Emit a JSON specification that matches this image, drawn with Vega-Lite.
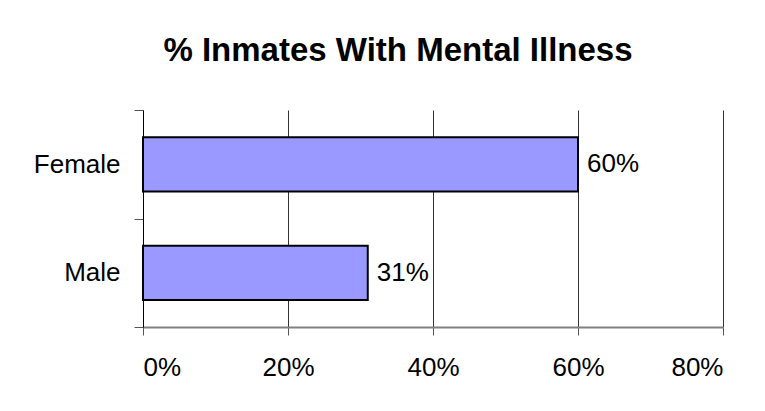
{
  "$schema": "https://vega.github.io/schema/vega-lite/v6.json",
  "width": 580,
  "height": 217,
  "autosize": {"type": "none"},
  "padding": {"left": 143, "top": 110, "right": 42, "bottom": 84},
  "background": "white",
  "config": {
    "font": "Liberation Sans",
    "view": {"stroke": null}
  },
  "title": {
    "text": "% Inmates With Mental Illness",
    "font": "Liberation Sans",
    "fontSize": 33,
    "fontWeight": "bold",
    "color": "black",
    "anchor": "middle",
    "dx": -35,
    "offset": 29
  },
  "data": {
    "values": [
      {"sex": "Female", "pct": 0.60},
      {"sex": "Male", "pct": 0.31}
    ]
  },
  "encoding": {
    "y": {
      "field": "sex",
      "type": "nominal",
      "sort": ["Female", "Male"],
      "scale": {"paddingInner": 0, "paddingOuter": 0},
      "axis": {
        "title": null,
        "labelFontSize": 26,
        "labelColor": "black",
        "labelPadding": 14,
        "tickSize": 9,
        "tickBand": "extent",
        "tickColor": "#555555",
        "domainColor": "black",
        "domainWidth": 1,
        "grid": false
      }
    },
    "x": {
      "field": "pct",
      "type": "quantitative",
      "scale": {"domain": [0, 0.8], "nice": false},
      "axis": {
        "title": null,
        "values": [0, 0.2, 0.4, 0.6, 0.8],
        "format": ".0%",
        "labelFontSize": 26,
        "labelColor": "black",
        "labelPadding": 19,
        "tickSize": 8,
        "tickColor": "#555555",
        "domainColor": "#808080",
        "domainWidth": 2,
        "grid": true,
        "gridColor": "#333333",
        "gridWidth": 1
      }
    }
  },
  "layer": [
    {
      "mark": {"type": "bar", "fill": "#9999FF", "stroke": "black", "strokeWidth": 2, "height": {"band": 0.5}}
    },
    {
      "mark": {"type": "text", "align": "left", "baseline": "middle", "dx": 9, "fontSize": 26, "color": "black"},
      "encoding": {
        "text": {"field": "pct", "type": "quantitative", "format": ".0%"}
      }
    }
  ]
}
